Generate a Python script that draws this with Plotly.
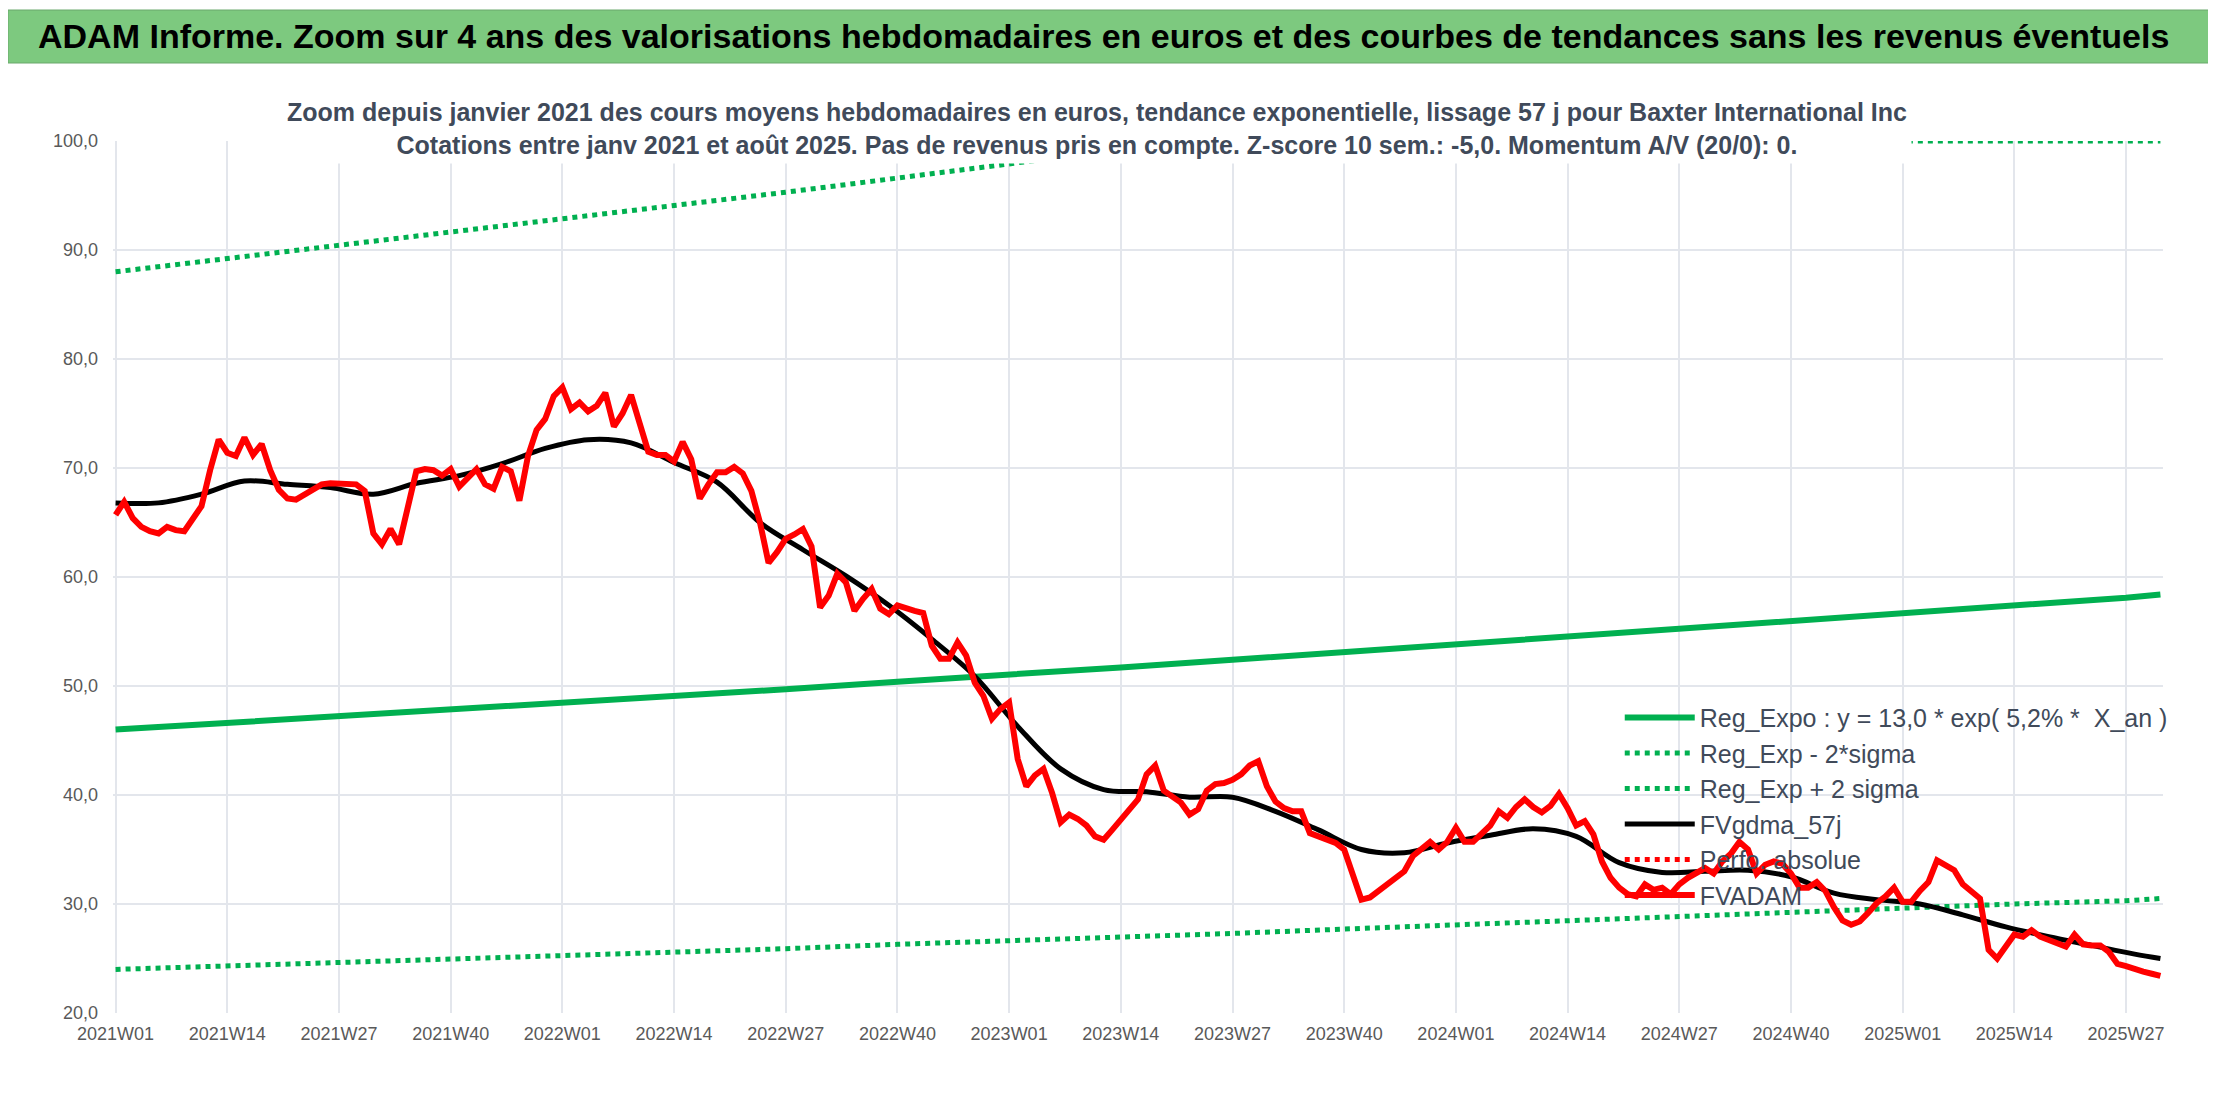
import plotly.graph_objects as go

fvadam = [65.7, 66.9, 65.4, 64.6, 64.2, 64.0, 64.6, 64.3, 64.2, 65.4, 66.5, 69.8, 72.6,
    71.4, 71.1, 72.8, 71.2, 72.2, 69.8, 68.0, 67.2, 67.1, 67.6, 68.0, 68.5, 68.6, 68.6,
    68.6, 68.5, 67.9, 64.0, 63.0, 64.4, 63.0, 66.2, 69.7, 69.9, 69.8, 69.3, 69.9, 68.3,
    69.2, 69.9, 68.5, 68.1, 70.1, 69.7, 67.0, 71.1, 73.5, 74.5, 76.6, 77.4, 75.4, 76.0,
    75.2, 75.7, 76.9, 73.8, 75.0, 76.7, 74.1, 71.5, 71.2, 71.2, 70.6, 72.4, 70.8, 67.2,
    68.5, 69.6, 69.6, 70.1, 69.5, 67.9, 65.0, 61.3, 62.3, 63.5, 63.9, 64.4, 62.8, 57.2,
    58.3, 60.3, 59.5, 56.9, 58.0, 58.9, 57.1, 56.6, 57.4, 57.1, 56.9, 56.7, 53.7, 52.5,
    52.5, 54.0, 52.8, 50.3, 49.1, 47.0, 47.9, 48.5, 43.3, 40.8, 41.8, 42.4, 40.2, 37.5,
    38.2, 37.8, 37.2, 36.2, 35.9, 36.8, 37.8, 38.8, 39.6, 41.9, 42.7, 40.4, 39.8, 39.3,
    38.2, 38.7, 40.4, 41.0, 41.1, 41.4, 41.9, 42.7, 43.1, 40.8, 39.4, 38.8, 38.5, 38.5,
    36.5, 36.2, 35.9, 35.6, 35.0, 32.6, 30.4, 30.6, 31.2, 31.8, 32.4, 33.0,
    34.4, 35.0, 35.7, 35.0, 35.7, 37.0, 35.7, 35.7, 36.4, 37.2, 38.5, 37.9, 38.9, 39.6,
    38.9, 38.4, 39.0, 40.1, 38.8, 37.2, 37.6, 36.4, 33.9, 32.4, 31.5, 30.9, 30.7, 31.8,
    31.3, 31.5, 30.9, 31.8, 32.4, 32.8, 33.3, 32.8, 33.9, 34.6, 35.7, 35.0, 32.8, 33.6,
    33.9, 33.7, 32.8, 31.5, 31.5, 32.0, 31.2, 29.7, 28.5, 28.1, 28.4, 29.2, 30.1, 30.7,
    31.5, 30.2, 30.2, 31.2, 32.0, 34.0, 33.6, 33.1, 31.8, 31.2, 30.5, 25.8, 25.0, 26.1,
    27.2, 27.0, 27.6, 27.0, 26.7, 26.5, 26.1, 27.2, 26.3, 26.2, 26.2, 25.6, 24.5, 24.3,
    24.0, 23.8, 23.6, 23.4]

fvgdma = [66.8, 66.8, 67.6, 68.8, 68.5, 68.2, 67.6, 68.6, 69.3, 70.4, 71.8, 72.6, 72.3,
    70.5, 68.7, 65.0, 62.5, 60.1, 57.4, 54.3, 50.9, 46.3, 42.4, 40.5, 40.3, 39.8, 39.8,
    38.5, 36.8, 35.0, 34.7, 35.6, 36.3, 36.9, 36.2, 33.8, 32.9, 33.0, 33.1, 32.5, 31.0,
    30.4, 30.0, 29.0, 27.9, 27.0, 26.2, 25.4, 25.0]

reg_expo = [46.0, 46.6, 47.2, 47.8, 48.4, 49.1, 49.7, 50.4, 51.0, 51.7, 52.4, 53.1, 53.8,
    54.5, 55.2, 55.9, 56.6, 57.4, 58.1, 58.4]
reg_low = [24.0, 24.3, 24.6, 24.9, 25.3, 25.6, 25.9, 26.3, 26.6, 27.0, 27.3, 27.7, 28.1,
    28.4, 28.8, 29.2, 29.6, 30.0, 30.3, 30.5]
reg_high = [88.0, 89.2, 90.4, 91.6, 92.8, 94.1, 95.3, 96.6, 97.9, 99.2, 100, 100, 100,
    100, 100, 100, 100, 100, 100, 100]

n = len(fvadam)
weeks = []
for i in range(n):
    y, w = 2021 + i // 52, i % 52 + 1
    weeks.append(f"{y}W{w:02d}")
last = n - 1
ma_x = [weeks[min(5 * k, last)] for k in range(len(fvgdma) - 1)] + [weeks[last]]
tr_idx = [min(13 * k, last) for k in range(len(reg_expo) - 1)] + [last]
tr_x = [weeks[i] for i in tr_idx]
tickvals = [weeks[i] for i in range(0, n, 13)]

fig = go.Figure()
fig.add_trace(go.Scatter(x=tr_x, y=reg_expo, mode="lines", name="Reg_Expo : y = 13,0 * exp( 5,2% *  X_an )",
                         line=dict(color="#00b050", width=6)))
fig.add_trace(go.Scatter(x=tr_x, y=reg_low, mode="lines", name="Reg_Exp - 2*sigma",
                         line=dict(color="#00b050", width=5, dash="dot")))
fig.add_trace(go.Scatter(x=tr_x, y=reg_high, mode="lines", name="Reg_Exp + 2 sigma",
                         line=dict(color="#00b050", width=5, dash="dot")))
fig.add_trace(go.Scatter(x=ma_x, y=fvgdma, mode="lines", name="FVgdma_57j",
                         line=dict(color="black", width=5, shape="spline")))
fig.add_trace(go.Scatter(x=[None], y=[None], mode="lines", name="Perfo. absolue",
                         line=dict(color="#ff0000", width=5, dash="dot")))
fig.add_trace(go.Scatter(x=weeks, y=fvadam, mode="lines", name="FVADAM",
                         line=dict(color="#ff0000", width=6)))

font = "Liberation Sans Narrow, Arial Narrow, Liberation Sans, sans-serif"
L, R = 105, 61
PW, PH = 2216 - L - R, 872
fig.update_layout(
    width=2216, height=1102, paper_bgcolor="white", plot_bgcolor="white",
    margin=dict(l=L, r=R, t=133, b=97), showlegend=True,
    font=dict(family=font, color="#595959"),
    legend=dict(x=0.735, y=0.365, xanchor="left", yanchor="top", bgcolor="rgba(0,0,0,0)",
                font=dict(size=25, color="#404a5a", family=font), itemwidth=70, tracegroupgap=0),
    xaxis=dict(type="category", categoryorder="array", categoryarray=weeks,
               tickvals=tickvals, ticktext=tickvals, range=[-0.3, n - 0.7],
               showgrid=True, gridcolor="#e3e6ec", gridwidth=1.5, tickfont=dict(size=18),
               ticks="", showline=False, zeroline=False, ticklabelstandoff=8),
    yaxis=dict(range=[20, 100], dtick=10, tickformat=".1f",
               showgrid=True, gridcolor="#e3e6ec", gridwidth=1.5, tickfont=dict(size=18),
               zeroline=False, ticks="", ticklabelstandoff=14),
    separators=",.",
    shapes=[dict(type="rect", xref="paper", yref="paper", x0=-L/PW, x1=1 + (R - 3)/PW, y0=1.0 + 78/PH, y1=1.0 + 131/PH,
                 fillcolor="#7dc97f", line=dict(width=1, color="#6aa86c"), layer="above")],
    annotations=[
        dict(xref="paper", yref="paper", x=-(L - 28)/PW, y=1.0 + 105/PH, xanchor="left", yanchor="middle",
             text="<b>ADAM Informe. Zoom sur 4 ans des valorisations hebdomadaires en euros et des courbes de tendances sans les revenus éventuels</b>",
             showarrow=False, font=dict(size=34, color="black", family=font)),
        dict(xref="paper", yref="paper", x=0.48, y=1.0 + 12/PH, xanchor="center", yanchor="middle",
             text="<b>Zoom depuis janvier 2021 des cours moyens hebdomadaires en euros, tendance exponentielle, lissage 57 j pour Baxter International Inc<br>Cotations entre janv 2021 et août 2025. Pas de revenus pris en compte. Z-score 10 sem.: -5,0. Momentum A/V (20/0): 0.</b>",
             showarrow=False, bgcolor="white", borderpad=4,
             font=dict(size=25, color="#404a5a", family=font)),
    ],
)
fig.write_html("out.html")
